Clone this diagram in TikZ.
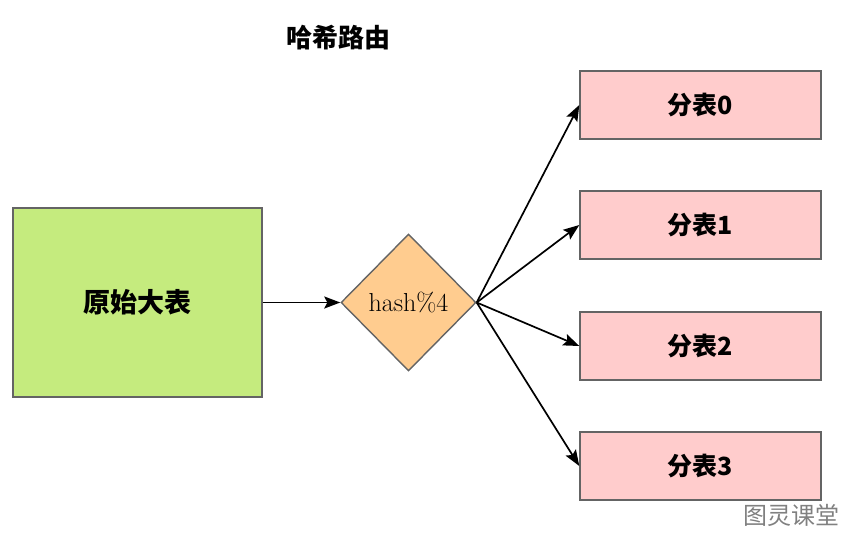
\documentclass[tikz,border=0pt]{standalone}
\usepackage{fontspec}
\newfontfamily\cjk{Noto Sans CJK SC}
\usetikzlibrary{shapes.geometric, arrows.meta}

\definecolor{bigtab}{RGB}{197,235,126}
\definecolor{hashcol}{RGB}{255,204,143}
\definecolor{subtab}{RGB}{255,204,204}
\definecolor{edgegray}{RGB}{100,100,100}

\begin{document}
\begin{tikzpicture}[x=1pt, y=-1pt,
    box/.style={draw=edgegray, line width=1.4pt, inner sep=0pt},
    arr/.style={-{Stealth[length=16pt, width=12pt, inset=3pt]}, line width=1.7pt}]
    \useasboundingbox (0,0) rectangle (849,536);

    % title
    \node (title) at (338, 38) {\cjk\bfseries\fontsize{26}{30}\selectfont 哈希路由};

    % original table
    \node[box, fill=bigtab, minimum width=249pt, minimum height=189pt] (orig) at (137.5, 302.5)
        {\cjk\bfseries\fontsize{27}{31}\selectfont 原始大表};

    % hash step
    \node[box, fill=hashcol, diamond, minimum width=135pt, minimum height=137pt] (hash) at (408.5, 302.5)
        {\fontsize{26}{30}\selectfont hash\%4};

    \draw[arr] (orig) -- (hash);

    % sub tables
    \foreach \i/\y in {0/105, 1/225, 2/346, 3/466} {
        \node[box, fill=subtab, minimum width=241pt, minimum height=68pt] (sub\i) at (700.5, \y)
            {\cjk\bfseries\fontsize{25}{29}\selectfont 分表\i};
        \draw[arr] (hash.east) -- (sub\i.west);
    }

    % watermark
    \node[text=gray] (mark) at (791, 515) {\cjk\fontsize{24}{28}\selectfont 图灵课堂};
\end{tikzpicture}
\end{document}
